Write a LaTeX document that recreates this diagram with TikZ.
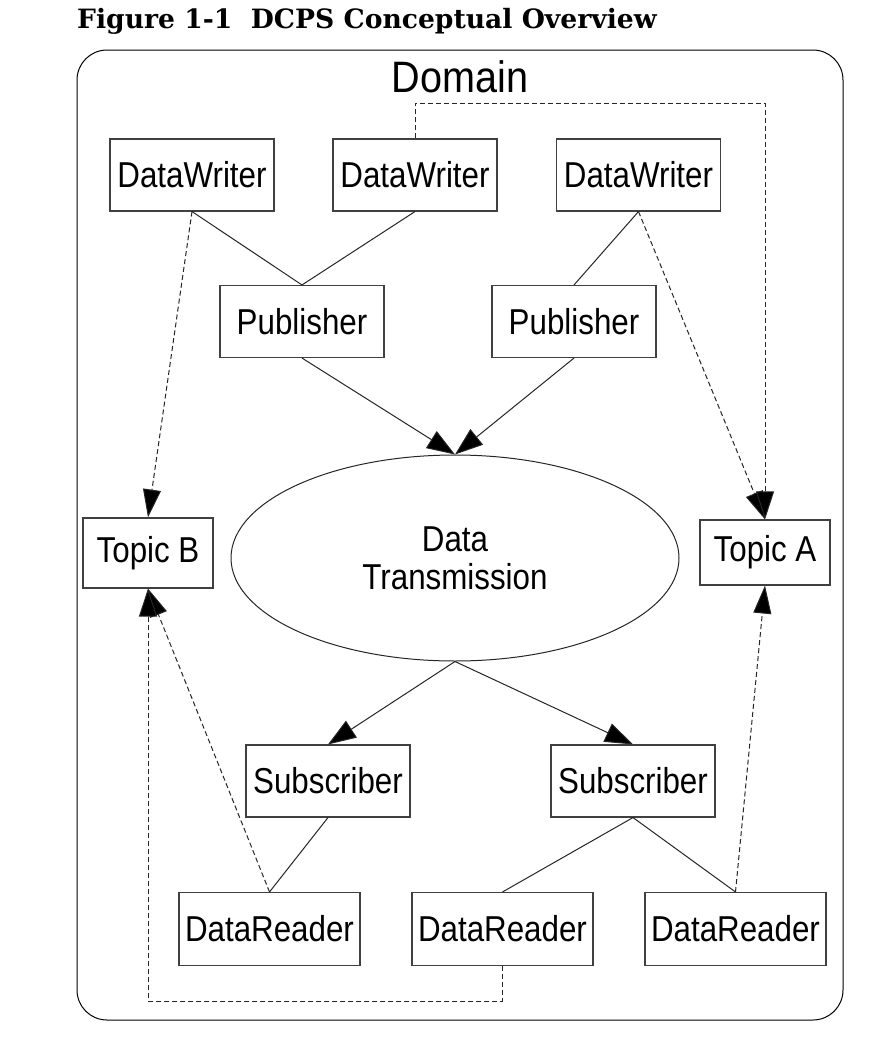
\documentclass[tikz,border=0pt]{standalone}
\usepackage{fontspec}
\setmainfont{Liberation Sans}
\newfontfamily\diafont[FakeStretch=0.87]{Liberation Sans}
\newfontfamily\domfont[FakeStretch=0.9]{Liberation Sans}
\newfontfamily\titlefont{DejaVu Serif}
\usetikzlibrary{arrows.meta,shapes.geometric}
\begin{document}
\begin{tikzpicture}[x=1pt,y=-1pt,
  box/.style={draw=black!75, line width=1.1pt, fill=white, minimum width=164pt,
    minimum height=72pt, inner sep=0pt, font=\diafont\fontsize{36}{38}\selectfont},
  wide/.style={box, minimum width=181pt, minimum height=73pt},
  topic/.style={box, minimum width=130pt, minimum height=68pt},
  link/.style={draw=black!85, line width=1pt},
  flow/.style={link, -{Triangle[length=28pt,width=20pt,fill=black]}},
  ref/.style={link, dash pattern=on 5pt off 3pt, -{Triangle[length=28pt,width=18pt,fill=black]}},
]
\useasboundingbox (0,0) rectangle (896,1052);
\fill[white] (0,0) rectangle (896,1052);
% title
\node[anchor=base west, inner sep=0pt, font=\titlefont\bfseries\fontsize{26.6}{30}\selectfont] (title) at (77,28) {Figure 1-1\ \ DCPS Conceptual Overview};
% domain
\draw[line width=1pt, rounded corners=30pt] (77,50) rectangle (843,1020);
\node[anchor=base, inner sep=0pt, font=\domfont\fontsize{44}{46}\selectfont] (domain) at (460,92) {Domain};
% boxes
\node[box] (dw1) at (192,175) {DataWriter};
\node[box] (dw2) at (415,175) {DataWriter};
\node[box] (dw3) at (638.5,175) {DataWriter};
\node[box] (pub1) at (302,321.5) {Publisher};
\node[box] (pub2) at (574,321.5) {Publisher};
\node[draw=black!85, line width=1pt, ellipse, minimum width=448pt, minimum height=206pt, inner sep=0pt, align=center,
  font=\diafont\fontsize{36}{38}\selectfont] (dt) at (455,558) {Data\\Transmission};
\node[topic, minimum height=70pt] (tb) at (148,553) {Topic B};
\node[topic, minimum height=65pt] (ta) at (765,552.5) {Topic A};
\node[box] (sub1) at (328,781) {Subscriber};
\node[box] (sub2) at (633,781) {Subscriber};
\node[wide] (dr1) at (269.5,929) {DataReader};
\node[wide] (dr2) at (502.5,929) {DataReader};
\node[wide] (dr3) at (735.5,929) {DataReader};
\coordinate (ctop) at (590,103);
\coordinate (cbot) at (320,1001);
% solid links
\draw[link] (dw1.south) -- (pub1.north);
\draw[link] (dw2.south) -- (pub1.north);
\draw[link] (dw3.south) -- (pub2.north);
\draw[link] (sub1.south) -- (dr1.north);
\draw[link] (sub2.south) -- (dr2.north);
\draw[link] (sub2.south) -- (dr3.north);
% flows
\draw[flow] (pub1.south) -- (dt.north);
\draw[flow] (pub2.south) -- (dt.north);
\draw[flow] (dt.south) -- (sub1.north);
\draw[flow] (dt.south) -- (sub2.north);
% topic references
\draw[ref] (dw1.south) -- (tb.north);
\draw[ref] (dw3.south) -- (ta.north);
\draw[ref] (dw2.north) |- (ctop) -| (ta.north);
\draw[ref] (dr1.north) -- (tb.south);
\draw[ref] (dr2.south) |- (cbot) -| (tb.south);
\draw[ref] (dr3.north) -- (ta.south);
\end{tikzpicture}
\end{document}
